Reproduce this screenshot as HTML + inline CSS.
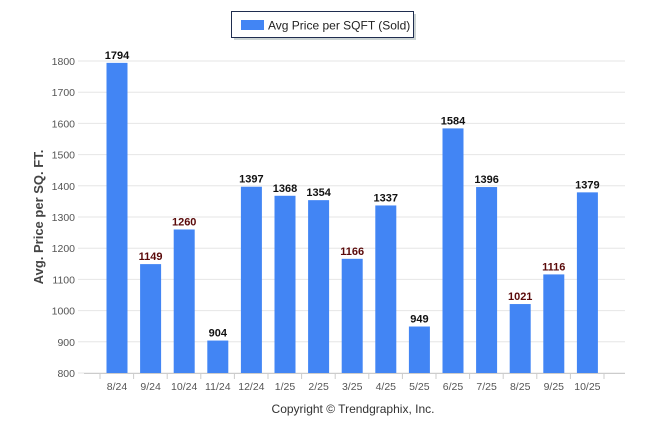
<!DOCTYPE html>
<html><head><meta charset="utf-8"><style>
body{margin:0;background:#fff;font-family:"Liberation Sans",Arial,sans-serif}
</style></head><body>
<svg width="646" height="434" style="display:block">
<g>
<rect x="234" y="14" width="182" height="26" fill="#9aa" opacity="0.5"/>
<rect x="231.5" y="11.5" width="182" height="26" fill="#fff" stroke="#1f2d4f" stroke-width="1"/>
<rect x="241" y="20" width="23" height="10" fill="#4285f4"/>
<text x="268" y="29.5" font-size="12" fill="#222">Avg Price per SQFT (Sold)</text>
</g>
<text transform="translate(43,217) rotate(-90)" text-anchor="middle" font-size="13" font-weight="bold" fill="#444">Avg. Price per SQ. FT.</text>
<g id="grid"></g><g id="bars"></g>
<text x="353" y="413" text-anchor="middle" font-size="12" fill="#333">Copyright © Trendgraphix, Inc.</text>
</svg>
<script>
const categories=["8/24","9/24","10/24","11/24","12/24","1/25","2/25","3/25","4/25","5/25","6/25","7/25","8/25","9/25","10/25"];
const values=[1794,1149,1260,904,1397,1368,1354,1166,1337,949,1584,1396,1021,1116,1379];
const yTicks=[800,900,1000,1100,1200,1300,1400,1500,1600,1700,1800];
const ns="http://www.w3.org/2000/svg";
const y=v=>373-(v-800)*0.312;
const x0=84,step=33.6;
function mk(t,a,p){const e=document.createElementNS(ns,t);for(const k in a)e.setAttribute(k,a[k]);p.appendChild(e);return e;}
const g=document.getElementById('grid'),b=document.getElementById('bars');
yTicks.forEach(v=>{
 const l=mk('line',{x1:78,x2:625,y1:y(v),y2:y(v),stroke:'#e6e6e6'},g);
 
 
 const t=mk('text',{x:75,y:y(v)+4,'text-anchor':'end','font-size':10.5,fill:'#555'},g);
 t.textContent=v;
 
 
});
const ax=mk('line',{x1:84,x2:625,y1:373.5,y2:373.5,stroke:'#ccc'},g);


for(let i=0;i<=categories.length;i++){
 const tk=mk('line',{x1:x0+step*i+16,x2:x0+step*i+16,y1:373,y2:379,stroke:'#ccc'},g);
 
 
}
const dark=[1149,1260,1166,1021,1116];
categories.forEach((c,i)=>{
 const cx=x0+step*i+33;
 const r=mk('rect',{x:cx-10.5,y:y(values[i]),width:21,height:373-y(values[i]),fill:'#4285f4'},b);
 
 
 const t=mk('text',{x:cx,y:y(values[i])-4,'text-anchor':'middle','font-size':11,'font-weight':'bold',fill:dark.includes(values[i])?'#5a0a0a':'#111'},b);
 t.textContent=values[i];
 
 
 const l=mk('text',{x:cx,y:390,'text-anchor':'middle','font-size':10.5,fill:'#555'},b);
 l.textContent=c;
 
 
});
</script>
</body></html>
